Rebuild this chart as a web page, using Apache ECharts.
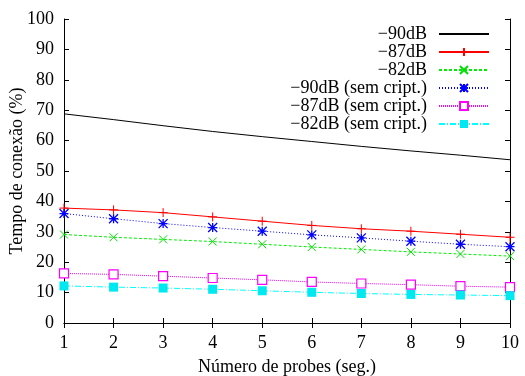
<!DOCTYPE html>
<html><head><meta charset="utf-8">
<script src="https://cdn.jsdelivr.net/npm/echarts@6/dist/echarts.min.js"></script>
<style>html,body{margin:0;padding:0;background:#fff}#c{width:525px;height:376px}</style>
</head><body><div id="c"></div>
<script>
const probes = [1,2,3,4,5,6,7,8,9,10];
const seriesNames = ['−90dB','−87dB','−82dB','−90dB (sem cript.)','−87dB (sem cript.)','−82dB (sem cript.)'];
const s90 = [68.8,66.9,64.9,63.0,61.3,59.7,58.1,56.6,55.2,53.7];
const s87 = [37.8,37.2,36.3,34.9,33.5,32.1,31.0,30.2,29.2,28.2];
const s82 = [29.1,28.2,27.5,26.8,25.9,25.0,24.2,23.4,22.7,22.0];
const s90sem = [36.0,34.3,32.7,31.4,30.2,29.0,28.0,26.9,25.9,25.1];
const s87sem = [16.3,16.0,15.4,14.8,14.2,13.5,13.0,12.6,12.1,11.8];
const s82sem = [12.2,11.8,11.5,11.1,10.6,10.1,9.7,9.4,9.2,9.0];
const yTicks = [0,10,20,30,40,50,60,70,80,90,100];

const font = 'Liberation Serif';
const fs = 18;
const pair = arr => probes.map((x,i)=>[x,arr[i]]);
const dot = 'path://M0,0L0.01,0M10,10L10.01,10M4.6,5L5.4,5';
const plus = 'path://M5,0L5,10M0,5L10,5';
const cross = 'path://M0,0L10,10M0,10L10,0';
const star = 'path://M0,0L10,10M0,10L10,0M5,0L5,10M0,5L10,5';

function mk(name, data, color, type, symbol, size, itemStyle, showSymbol){
  return {name, type:'line', data:pair(data), color,
    lineStyle:{color, width:1, type},
    symbol, symbolSize:size, showSymbol: showSymbol !== false,
    itemStyle: itemStyle,
    emphasis:{disabled:true}, animation:false};
}
const series = [
  mk(seriesNames[0], s90, '#000000', 'solid', dot, 6, {color:'none', borderColor:'#000', borderWidth:1}, false),
  mk(seriesNames[1], s87, '#ff0000', 'solid', plus, 9, {color:'none', borderColor:'#ff0000', borderWidth:1}),
  mk(seriesNames[2], s82, '#00ee00', [3,2], cross, 8, {color:'none', borderColor:'#00e000', borderWidth:1}),
  mk(seriesNames[3], s90sem, '#0000ff', [1,2], star, 9, {color:'none', borderColor:'#0000ff', borderWidth:1.3}),
  mk(seriesNames[4], s87sem, '#ff00ff', [1,1], 'rect', 9, {color:'#fff', borderColor:'#ff00ff', borderWidth:1.2}),
  mk(seriesNames[5], s82sem, '#00ffff', [6,2,1,2], 'rect', 9, {color:'#00e8f0', borderColor:'#00e8f0', borderWidth:0})
];
const axisCommon = {
  axisLine:{show:true, lineStyle:{color:'#000', width:1}},
  axisTick:{show:true, inside:true, length:5, lineStyle:{color:'#000'}},
  splitLine:{show:false}
};
const chart = echarts.init(document.getElementById('c'), null, {renderer:'canvas'});
chart.setOption({
  backgroundColor:'#fff',
  animation:false,
  grid:{left:64, right:15, top:19, bottom:53, containLabel:false, outerBoundsMode:'none'},
  legend:{
    right:35, top:25, orient:'vertical', align:'right',
    itemWidth:50, itemHeight:10, itemGap:0,
    padding:0,
    textStyle:{fontFamily:font, fontSize:fs, color:'#000', padding:[0,7,0,0], lineHeight:18},
    data: seriesNames
  },
  xAxis:[
    Object.assign({type:'value', min:1, max:10, interval:1, position:'bottom',
      name:'Número de probes (seg.)', nameLocation:'middle', nameGap:35, nameMoveOverlap:false,
      nameTextStyle:{fontFamily:font, fontSize:fs, color:'#000'},
      axisLabel:{fontFamily:font, fontSize:fs, color:'#000', margin:11}}, axisCommon),
    Object.assign({type:'value', min:1, max:10, interval:1, position:'top', axisLabel:{show:false}}, axisCommon)
  ],
  yAxis:[
    Object.assign({type:'value', min:0, max:100, interval:10, position:'left',
      name:'Tempo de conexão (%)', nameLocation:'middle', nameGap:38, nameMoveOverlap:false,
      nameTextStyle:{fontFamily:font, fontSize:fs, color:'#000'},
      axisLabel:{fontFamily:font, fontSize:fs, color:'#000', margin:10,
        formatter: v => yTicks.includes(v) ? String(v) : ''}}, axisCommon),
    Object.assign({type:'value', min:0, max:100, interval:10, position:'right', axisLabel:{show:false}}, axisCommon)
  ],
  series
});
</script></body></html>
